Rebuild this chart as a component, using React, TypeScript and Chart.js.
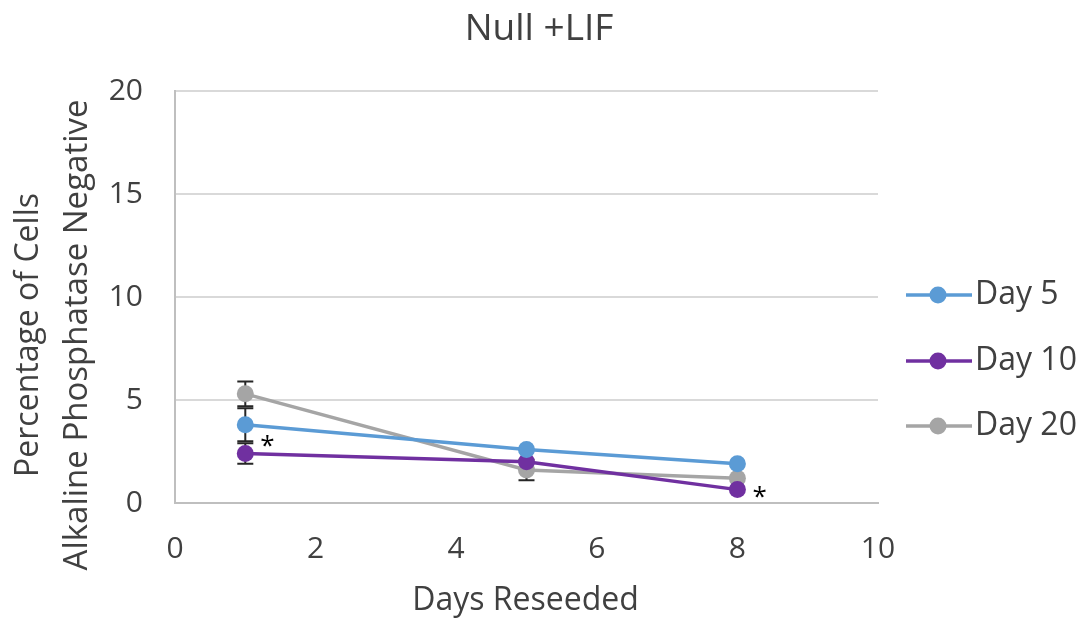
import React, { useEffect, useRef } from "react";
import { Chart, registerables } from "chart.js";

Chart.register(...registerables);

// Days the cells were reseeded (x values)
const daysReseeded = [1, 5, 8];

// Percentage of alkaline-phosphatase-negative cells per series
const day5Values = [3.8, 2.6, 1.9];
const day10Values = [2.4, 2.0, 0.65];
const day20Values = [5.3, 1.6, 1.2];

// Standard error for each point (0 = bar hidden behind the marker)
const day5Errors = [0.8, 0, 0];
const day10Errors = [0.5, 0, 0];
const day20Errors = [0.6, 0.5, 0];

// Significance markers on the Day 10 series
const day10Stars = ["*", "", "*"];

const seriesNames = ["Day 5", "Day 10", "Day 20"];
const seriesColors = ["#5B9BD5", "#7030A0", "#A5A5A5"];

const xTicks = [0, 2, 4, 6, 8, 10];
const yTicks = [0, 5, 10, 15, 20];

const chartTitle = "Null +LIF";
const xTitle = "Days Reseeded";
const yTitleLines = ["Percentage of Cells", "Alkaline Phosphatase Negative"];

const FONT = "'Open Sans', 'Noto Sans', sans-serif";
const TEXT = "#404040";

const errorBarPlugin = {
  id: "errorBars",
  beforeDatasetsDraw(chart: any) {
    const { ctx, scales } = chart;
    const xs = scales.x;
    const ys = scales.y;
    const errs = [day5Errors, day10Errors, day20Errors];
    ctx.save();
    ctx.strokeStyle = "#262626";
    ctx.lineWidth = 2;
    chart.data.datasets.forEach((ds: any, i: number) => {
      ds.data.forEach((p: any, j: number) => {
        const e = errs[i][j];
        if (!e) return;
        const px = xs.getPixelForValue(p.x);
        const top = ys.getPixelForValue(p.y + e);
        const bot = ys.getPixelForValue(p.y - e);
        ctx.beginPath();
        ctx.moveTo(px, top);
        ctx.lineTo(px, bot);
        ctx.moveTo(px - 8, top);
        ctx.lineTo(px + 8, top);
        ctx.moveTo(px - 8, bot);
        ctx.lineTo(px + 8, bot);
        ctx.stroke();
      });
    });
    ctx.restore();
  },
};

const annotationPlugin = {
  id: "annotations",
  afterDraw(chart: any) {
    const { ctx, scales, chartArea } = chart;
    const xs = scales.x;
    const ys = scales.y;
    ctx.save();
    ctx.fillStyle = TEXT;

    // Title
    ctx.font = `37px ${FONT}`;
    ctx.textAlign = "center";
    ctx.textBaseline = "middle";
    ctx.fillText(chartTitle, 539, 29);

    // X axis title
    ctx.font = `32px ${FONT}`;
    ctx.fillText(xTitle, (chartArea.left + chartArea.right) / 2 - 1, 601);

    // Y axis title (two rotated lines)
    ctx.save();
    ctx.translate(0, (chartArea.top + chartArea.bottom) / 2 + 38);
    ctx.rotate(-Math.PI / 2);
    ctx.fillText(yTitleLines[0], 0, 29);
    ctx.font = `33px ${FONT}`;
    ctx.fillText(yTitleLines[1], 0, 78);
    ctx.restore();

    // Significance stars
    ctx.fillStyle = "#000";
    ctx.font = `26px ${FONT}`;
    ctx.textAlign = "left";
    const starOffsets = [-12, 0, 3];
    day10Stars.forEach((s, j) => {
      if (!s) return;
      const px = xs.getPixelForValue(daysReseeded[j]);
      const py = ys.getPixelForValue(day10Values[j]);
      ctx.fillText(s, px + 15, py + starOffsets[j] + 5);
    });

    // Legend
    const legendY = [295, 361, 426];
    seriesNames.forEach((name, i) => {
      const y = legendY[i];
      ctx.strokeStyle = seriesColors[i];
      ctx.lineWidth = 3.5;
      ctx.beginPath();
      ctx.moveTo(906, y);
      ctx.lineTo(972, y);
      ctx.stroke();
      ctx.fillStyle = seriesColors[i];
      ctx.beginPath();
      ctx.arc(938, y, 8.5, 0, Math.PI * 2);
      ctx.fill();
      ctx.fillStyle = TEXT;
      ctx.font = `32px ${FONT}`;
      ctx.textAlign = "left";
      ctx.textBaseline = "middle";
      ctx.fillText(name, 975, y);
    });
    ctx.restore();
  },
};

export default function App() {
  const canvasRef = useRef<HTMLCanvasElement | null>(null);

  useEffect(() => {
    if (!canvasRef.current) return;
    const seriesValues = [day5Values, day10Values, day20Values];
    const chart = new Chart(canvasRef.current, {
      type: "line",
      data: {
        datasets: seriesNames.map((name, i) => ({
          label: name,
          data: daysReseeded.map((d, j) => ({ x: d, y: seriesValues[i][j] })),
          borderColor: seriesColors[i],
          backgroundColor: seriesColors[i],
          borderWidth: 3.5,
          pointRadius: 8.5,
          pointHoverRadius: 8.5,
          pointBorderWidth: 0,
          tension: 0,
        })),
      },
      options: {
        animation: false,
        responsive: false,
        maintainAspectRatio: false,
        events: [],
        layout: { padding: { top: 91, right: 213, bottom: 0, left: 0 } },
        plugins: {
          legend: { display: false },
          title: { display: false },
          tooltip: { enabled: false },
        },
        scales: {
          x: {
            type: "linear",
            min: 0,
            max: 10,
            afterBuildTicks(scale: any) {
              scale.ticks = xTicks.map((v) => ({ value: v }));
            },
            afterFit(scale: any) {
              scale.height = 119;
            },
            grid: { display: false, drawTicks: false },
            border: { display: true, color: "#BFBFBF", width: 2 },
            ticks: {
              padding: 28,
              color: TEXT,
              font: { family: FONT, size: 30 },
              maxRotation: 0,
            },
          },
          y: {
            min: 0,
            max: 20,
            afterBuildTicks(scale: any) {
              scale.ticks = yTicks.map((v) => ({ value: v }));
            },
            afterFit(scale: any) {
              scale.width = 175;
            },
            grid: { color: "#D9D9D9", lineWidth: 2, drawTicks: false },
            border: { display: true, color: "#BFBFBF", width: 2 },
            ticks: {
              padding: 32,
              color: TEXT,
              font: { family: FONT, size: 30 },
            },
          },
        },
      },
      plugins: [errorBarPlugin, annotationPlugin],
    } as any);
    return () => chart.destroy();
  }, []);

  return (
    <div style={{ position: "absolute", left: 0, top: 0, width: 1091, height: 622, background: "#fff" }}>
      <canvas ref={canvasRef} width={1091} height={622} style={{ width: 1091, height: 622 }} />
    </div>
  );
}
